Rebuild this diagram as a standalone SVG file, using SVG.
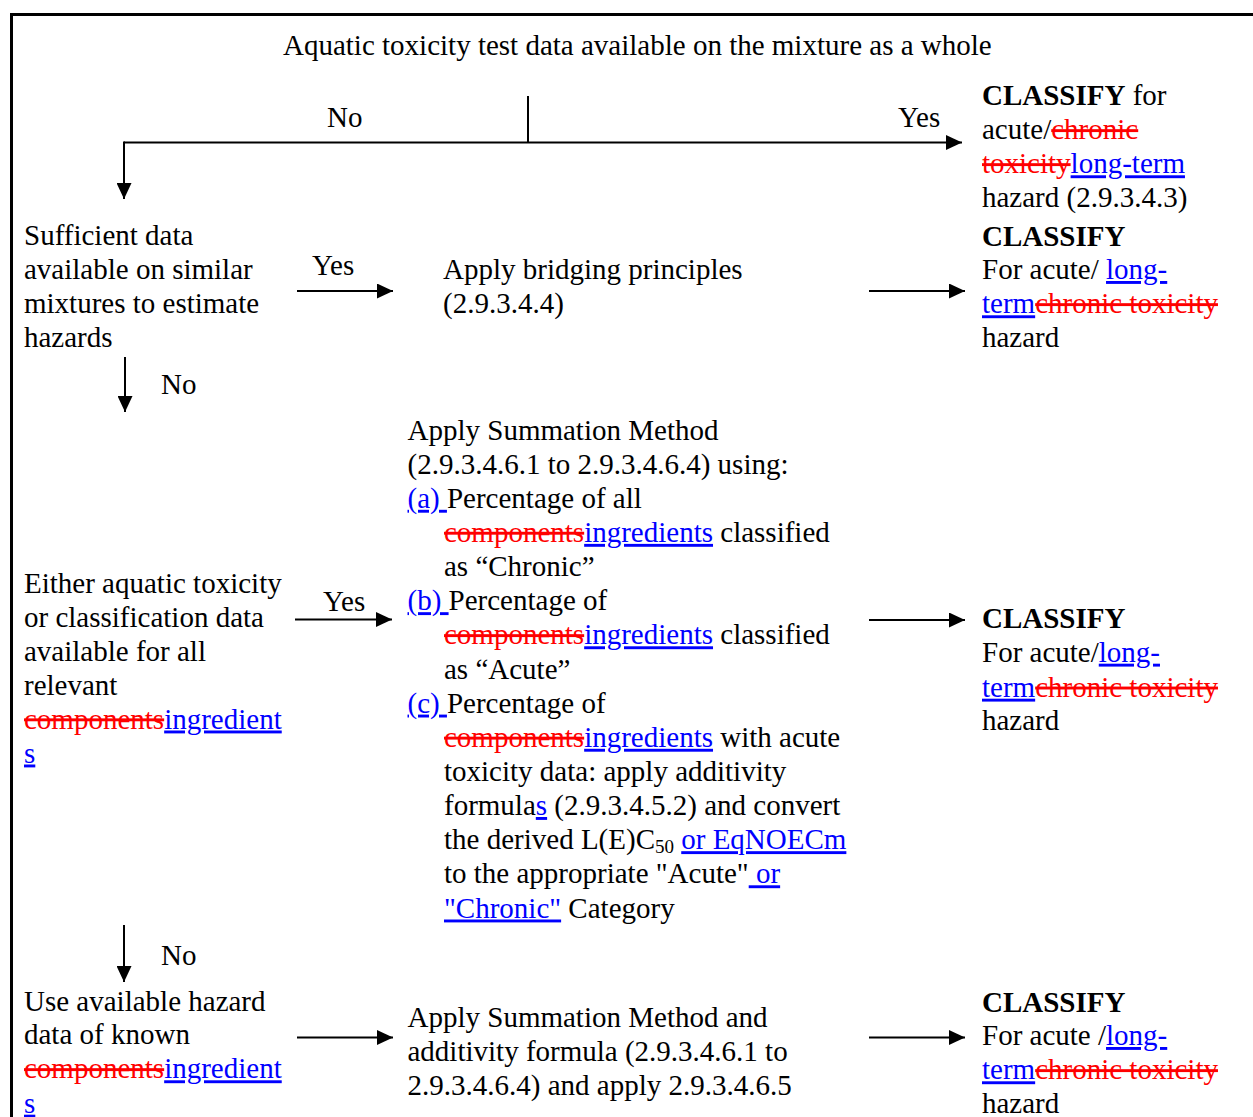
<svg xmlns="http://www.w3.org/2000/svg" width="1253" height="1117" viewBox="0 0 1253 1117">
<style>
text{font-family:"Liberation Serif","Times New Roman",serif;font-size:29px;fill:#000}
.b{font-weight:bold}
.del{fill:#FF0000;text-decoration:line-through}
.ins{fill:#0000FF;text-decoration:underline}
.sub{font-size:19px}
.ln{stroke:#000;stroke-width:2;fill:none}
</style>
<defs>
<marker id="ah" markerUnits="userSpaceOnUse" markerWidth="16" markerHeight="15" refX="16" refY="7.5" orient="auto">
<path d="M0,0 L16,7.5 L0,15 z" fill="#000"/>
</marker>
</defs>
<rect width="1253" height="1117" fill="#fff"/>
<path d="M11.5,1117 V14.5 H1253" stroke="#000" stroke-width="3" fill="none"/>

<g id="connectors">
<line class="ln" x1="528" y1="96" x2="528" y2="142.5"/>
<line class="ln" x1="124" y1="142.5" x2="962" y2="142.5" marker-end="url(#ah)"/>
<line class="ln" x1="124" y1="141.5" x2="124" y2="199" marker-end="url(#ah)"/>
<line class="ln" x1="297" y1="291" x2="393" y2="291" marker-end="url(#ah)"/>
<line class="ln" x1="869" y1="291" x2="965" y2="291" marker-end="url(#ah)"/>
<line class="ln" x1="125" y1="357" x2="125" y2="412" marker-end="url(#ah)"/>
<line class="ln" x1="295" y1="619.5" x2="392" y2="619.5" marker-end="url(#ah)"/>
<line class="ln" x1="869" y1="620" x2="965" y2="620" marker-end="url(#ah)"/>
<line class="ln" x1="124" y1="925" x2="124" y2="982" marker-end="url(#ah)"/>
<line class="ln" x1="297" y1="1037.5" x2="393" y2="1037.5" marker-end="url(#ah)"/>
<line class="ln" x1="869" y1="1037.5" x2="965" y2="1037.5" marker-end="url(#ah)"/>
<text x="327" y="127">No</text>
<text x="898" y="127">Yes</text>
<text x="312" y="275">Yes</text>
<text x="161" y="394">No</text>
<text x="323" y="611">Yes</text>
<text x="161" y="965">No</text>
</g>

<g id="title">
<text x="283" y="55">Aquatic toxicity test data available on the mixture as a whole</text>
</g>

<g id="classify1">
<text x="982" y="105"><tspan class="b">CLASSIFY</tspan> for</text>
<text x="982" y="139.3">acute/<tspan class="del">chronic</tspan></text>
<text x="982" y="173.3"><tspan class="del">toxicity</tspan><tspan class="ins">long-term</tspan></text>
<text x="982" y="207.3">hazard (2.9.3.4.3)</text>
</g>

<g id="sufficient">
<text x="24" y="245">Sufficient data</text>
<text x="24" y="279">available on similar</text>
<text x="24" y="313">mixtures to estimate</text>
<text x="24" y="347">hazards</text>
</g>

<g id="bridging">
<text x="443" y="278.5">Apply bridging principles</text>
<text x="443" y="312.7">(2.9.3.4.4)</text>
</g>

<g id="classify2">
<text x="982" y="245.7" class="b">CLASSIFY</text>
<text x="982" y="279">For acute/ <tspan class="ins">long-</tspan></text>
<text x="982" y="313.3"><tspan class="ins">term</tspan><tspan class="del">chronic toxicity</tspan></text>
<text x="982" y="346.7">hazard</text>
</g>

<g id="either">
<text x="24" y="593.3">Either aquatic toxicity</text>
<text x="24" y="627">or classification data</text>
<text x="24" y="661">available for all</text>
<text x="24" y="695">relevant</text>
<text x="24" y="728.5"><tspan class="del">components</tspan><tspan class="ins">ingredient</tspan></text>
<text x="24" y="762.5"><tspan class="ins">s</tspan></text>
</g>

<g id="summation">
<text x="407.5" y="439.5">Apply Summation Method</text>
<text x="407.5" y="473.6">(2.9.3.4.6.1 to 2.9.3.4.6.4) using:</text>
<text x="407.5" y="507.8"><tspan class="ins">(a) </tspan>Percentage of all</text>
<text x="444" y="541.9"><tspan class="del">components</tspan><tspan class="ins">ingredients</tspan> classified</text>
<text x="444" y="576.1">as “Chronic”</text>
<text x="407.5" y="610.2"><tspan class="ins">(b) </tspan>Percentage of</text>
<text x="444" y="644.3"><tspan class="del">components</tspan><tspan class="ins">ingredients</tspan> classified</text>
<text x="444" y="678.5">as “Acute”</text>
<text x="407.5" y="712.6"><tspan class="ins">(c) </tspan>Percentage of</text>
<text x="444" y="746.8"><tspan class="del">components</tspan><tspan class="ins">ingredients</tspan> with acute</text>
<text x="444" y="780.9">toxicity data: apply additivity</text>
<text x="444" y="815">formula<tspan class="ins">s</tspan> (2.9.3.4.5.2) and convert</text>
<text x="444" y="849.2">the derived L(E)C<tspan class="sub" dy="4">50</tspan><tspan dy="-4"> </tspan><tspan class="ins">or EqNOECm</tspan></text>
<text x="444" y="883.3">to the appropriate "Acute"<tspan class="ins"> or</tspan></text>
<text x="444" y="917.5"><tspan class="ins">"Chronic"</tspan> Category</text>
</g>

<g id="classify3">
<text x="982" y="628.3" class="b">CLASSIFY</text>
<text x="982" y="661.7">For acute/<tspan class="ins">long-</tspan></text>
<text x="982" y="696.7"><tspan class="ins">term</tspan><tspan class="del">chronic toxicity</tspan></text>
<text x="982" y="730">hazard</text>
</g>

<g id="useavailable">
<text x="24" y="1010.7">Use available hazard</text>
<text x="24" y="1044">data of known</text>
<text x="24" y="1078.3"><tspan class="del">components</tspan><tspan class="ins">ingredient</tspan></text>
<text x="24" y="1112.7"><tspan class="ins">s</tspan></text>
</g>

<g id="summation2">
<text x="407.5" y="1027.3">Apply Summation Method and</text>
<text x="407.5" y="1060.7">additivity formula (2.9.3.4.6.1 to</text>
<text x="407.5" y="1095">2.9.3.4.6.4) and apply 2.9.3.4.6.5</text>
</g>

<g id="classify4">
<text x="982" y="1011.7" class="b">CLASSIFY</text>
<text x="982" y="1045">For acute /<tspan class="ins">long-</tspan></text>
<text x="982" y="1079.3"><tspan class="ins">term</tspan><tspan class="del">chronic toxicity</tspan></text>
<text x="982" y="1113.3">hazard</text>
</g>
</svg>
